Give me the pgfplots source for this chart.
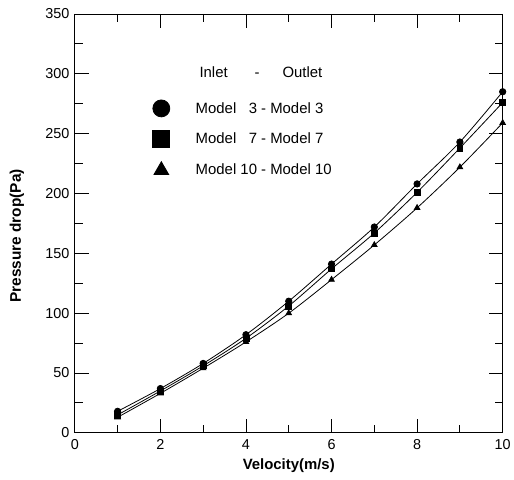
\documentclass[border=0pt]{standalone}
\usepackage{fontspec}
\setmainfont{Liberation Sans}
\usepackage{pgfplots}
\pgfplotsset{compat=1.18}
\pgfplotsset{legend image code/.code={\draw[#1, mark size=8.5bp] plot coordinates {(0.3cm,0cm)};}}

\begin{document}
\begin{tikzpicture}
\begin{axis}[
  scale only axis, width=429bp, height=420bp,
  xmin=0, xmax=10, ymin=0, ymax=350,
  xtick={0,2,...,10}, ytick={0,50,...,350},
  minor xtick={1,3,...,9}, minor ytick={25,75,...,325},
  tick align=inside, major tick length=14bp, minor tick length=8bp,
  tick style={line width=0.9pt, black},
  axis line style={line width=0.9pt},
  ticklabel style={font=\fontsize{14.5}{16}\selectfont},
  yticklabel style={xshift=-2bp},
  xticklabel style={yshift=-3bp},
  /pgf/number format/assume math mode=true,
  xlabel={Velocity(m/s)},
  ylabel={Pressure drop(Pa)},
  every axis x label/.style={at={(rel axis cs:0.5,0)}, yshift=-33bp, anchor=center,
    font=\fontsize{15}{17}\selectfont\bfseries},
  every axis y label/.style={at={(rel axis cs:0,0.47)}, xshift=-58bp, rotate=90, anchor=center,
    font=\fontsize{15.5}{17}\selectfont\bfseries},
  every axis plot/.append style={black, line width=0.8pt, smooth},
  legend cell align=left,
  legend style={draw=none, fill=none, at={(0.175,0.80)}, anchor=north west,
    font=\fontsize{15}{17}\selectfont, row sep=14bp,
    nodes={inner sep=2bp}},
]
\addplot[mark=*, mark size=3.2bp, mark options={fill=black}]
  coordinates {(1,18)(2,37)(3,58)(4,82)(5,110)(6,141)(7,172)(8,208)(9,243)(10,285)};
\addlegendentry{\hspace{24bp}Model\ \ \ 3 - Model 3}
\addplot[mark=square*, mark size=3bp, mark options={fill=black}]
  coordinates {(1,15)(2,35)(3,56)(4,79)(5,106)(6,137)(7,167)(8,201)(9,238)(10,276)};
\addlegendentry{\hspace{24bp}Model\ \ \ 7 - Model 7}
\addplot[mark=triangle*, mark size=3.2bp, mark options={fill=black}]
  coordinates {(1,13)(2,33)(3,54)(4,76)(5,100)(6,128)(7,157)(8,188)(9,222)(10,259)};
\addlegendentry{\hspace{24bp}Model 10 - Model 10}
\node[font=\fontsize{15}{17}\selectfont] at (axis cs:4.35,301)
  {Inlet\hspace{27bp}-\hspace{23bp}Outlet};
\coordinate (bl) at (rel axis cs:0,0);
\coordinate (tr) at (rel axis cs:1,1);
\end{axis}
\path ([shift={(-75bp,-47bp)}]bl) rectangle ([shift={(10bp,14bp)}]tr);
\end{tikzpicture}
\end{document}
